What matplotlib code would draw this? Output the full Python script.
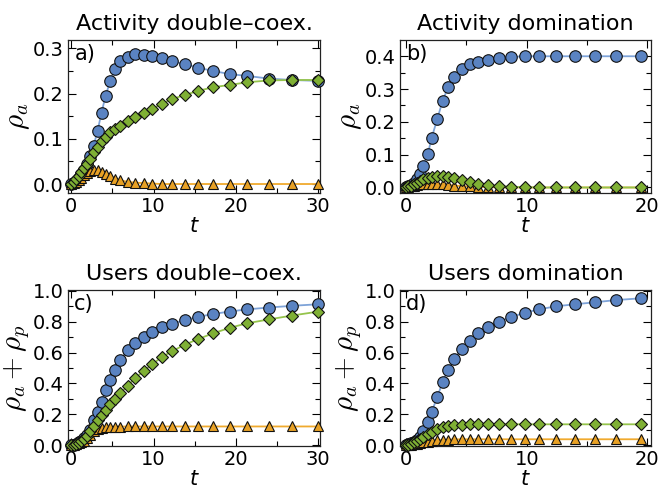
import matplotlib
matplotlib.use('Agg')
import matplotlib.pyplot as plt
from matplotlib.ticker import MultipleLocator, FormatStrFormatter

# sampling times (left column runs to t=30, right column to t~20)
t_long = [0, 0.3, 0.6, 0.9, 1.2, 1.5, 1.85, 2.23, 2.71, 3.2, 3.68, 4.17, 4.74,
          5.34, 5.95, 6.85, 7.77, 8.79, 9.85, 11.0, 12.3, 13.85, 15.45, 17.27,
          19.25, 21.4, 24.06, 26.85, 30.0]
t_short = [0, 0.2, 0.4, 0.65, 0.9, 1.15, 1.44, 1.8, 2.13, 2.6, 3.04, 3.5, 4.0,
           4.6, 5.28, 6.0, 6.8, 7.7, 8.72, 9.82, 11.02, 12.43, 14.0, 15.66,
           17.38, 19.48]

# a) activity, double coexistence
act_coex_blue = [0, 0.003, 0.007, 0.013, 0.022, 0.032, 0.045, 0.062, 0.084,
                 0.118, 0.158, 0.195, 0.228, 0.254, 0.272, 0.281, 0.287, 0.286,
                 0.284, 0.279, 0.271, 0.265, 0.257, 0.25, 0.243, 0.239, 0.233,
                 0.23, 0.228]
act_coex_green = [0, 0.005, 0.011, 0.018, 0.026, 0.035, 0.045, 0.056, 0.07,
                  0.082, 0.094, 0.104, 0.115, 0.121, 0.128, 0.139, 0.148, 0.156,
                  0.166, 0.177, 0.188, 0.197, 0.206, 0.214, 0.219, 0.225, 0.229,
                  0.23, 0.23]
act_coex_orange = [0, 0.002, 0.005, 0.009, 0.014, 0.019, 0.024, 0.028, 0.031,
                   0.03, 0.027, 0.022, 0.017, 0.012, 0.008, 0.005, 0.003, 0.002,
                   0.001, 0, 0, 0, 0, 0, 0, 0, 0, 0, 0]

# b) activity, domination
act_dom_blue = [0, 0.003, 0.007, 0.014, 0.025, 0.04, 0.065, 0.101, 0.152, 0.21,
                0.265, 0.306, 0.337, 0.36, 0.375, 0.384, 0.39, 0.395, 0.398,
                0.4, 0.4, 0.4, 0.4, 0.4, 0.4, 0.4]
act_dom_green = [0, 0.003, 0.006, 0.01, 0.015, 0.02, 0.025, 0.03, 0.033, 0.035,
                 0.034, 0.032, 0.028, 0.022, 0.016, 0.011, 0.007, 0.004, 0.002,
                 0.001, 0, 0, 0, 0, 0, 0]
act_dom_orange = [0, 0.002, 0.004, 0.006, 0.008, 0.01, 0.011, 0.012, 0.012,
                  0.011, 0.01, 0.008, 0.006, 0.004, 0.003, 0.002, 0.001, 0.0005,
                  0, 0, 0, 0, 0, 0, 0, 0]

# c) users, double coexistence
usr_coex_blue = [0, 0.004, 0.01, 0.018, 0.03, 0.045, 0.065, 0.1, 0.16, 0.215,
                 0.28, 0.355, 0.425, 0.49, 0.55, 0.615, 0.66, 0.7, 0.733, 0.765,
                 0.788, 0.81, 0.832, 0.85, 0.866, 0.88, 0.892, 0.903, 0.913]
usr_coex_green = [0, 0.003, 0.008, 0.015, 0.025, 0.038, 0.058, 0.09, 0.125,
                  0.16, 0.195, 0.228, 0.265, 0.3, 0.335, 0.385, 0.435, 0.48,
                  0.525, 0.57, 0.61, 0.652, 0.688, 0.725, 0.76, 0.79, 0.815,
                  0.84, 0.865]
usr_coex_orange = [0, 0.002, 0.006, 0.012, 0.02, 0.03, 0.045, 0.065, 0.09,
                   0.105, 0.113, 0.117, 0.119, 0.12, 0.12, 0.121, 0.121, 0.121,
                   0.121, 0.121, 0.121, 0.121, 0.121, 0.121, 0.121, 0.121,
                   0.121, 0.121, 0.121]

# d) users, domination
usr_dom_blue = [0, 0.005, 0.012, 0.022, 0.035, 0.055, 0.09, 0.15, 0.215, 0.315,
                0.41, 0.49, 0.56, 0.62, 0.675, 0.725, 0.765, 0.8, 0.83, 0.858,
                0.88, 0.9, 0.913, 0.926, 0.94, 0.952]
usr_dom_green = [0, 0.004, 0.01, 0.02, 0.03, 0.042, 0.055, 0.072, 0.088, 0.105,
                 0.116, 0.124, 0.129, 0.132, 0.134, 0.135, 0.135, 0.135, 0.135,
                 0.135, 0.135, 0.135, 0.135, 0.135, 0.135, 0.135]
usr_dom_orange = [0, 0.002, 0.004, 0.007, 0.01, 0.014, 0.018, 0.023, 0.027,
                  0.031, 0.034, 0.036, 0.037, 0.038, 0.038, 0.038, 0.038, 0.038,
                  0.038, 0.038, 0.038, 0.038, 0.038, 0.038, 0.038, 0.038]

titles = ['Activity double\u2013coex.', 'Activity domination',
          'Users double\u2013coex.', 'Users domination']
letters = ['a)', 'b)', 'c)', 'd)']
ylabels = [r'$\rho_a$', r'$\rho_a$', r'$\rho_a + \rho_p$', r'$\rho_a + \rho_p$']

BLUE = '#5a83c2'
GREEN = '#7fb034'
ORANGE = '#e8a125'


def draw(ax, t, blue, green, orange):
    ax.plot(t, blue, '-', color='#7ea3d8', lw=1.3, zorder=2)
    ax.plot(t, orange, '-', color='#f0aa2e', lw=1.3, zorder=2)
    ax.plot(t, green, '-', color='#95c44c', lw=1.3, zorder=2)
    ax.plot(t, blue, 'o', ms=8.3, mfc=BLUE, mec='#111111', mew=0.8,
            clip_on=False, zorder=3)
    ax.plot(t, orange, '^', ms=7.8, mfc=ORANGE, mec='#111111', mew=0.8,
            clip_on=False, zorder=3)
    ax.plot(t, green, 'D', ms=5.7, mfc=GREEN, mec='#111111', mew=0.8,
            clip_on=False, zorder=4)


plt.rcParams['font.family'] = 'DejaVu Sans'
plt.rcParams['mathtext.fontset'] = 'dejavusans'

fig = plt.figure(figsize=(6.63, 4.9), dpi=100)
ax_a = fig.add_axes([0.1026, 0.606, 0.380, 0.312])
ax_b = fig.add_axes([0.6033, 0.606, 0.3786, 0.312])
ax_c = fig.add_axes([0.1026, 0.090, 0.380, 0.318])
ax_d = fig.add_axes([0.6033, 0.090, 0.3786, 0.318])
axes = [ax_a, ax_b, ax_c, ax_d]

draw(ax_a, t_long, act_coex_blue, act_coex_green, act_coex_orange)
draw(ax_b, t_short, act_dom_blue, act_dom_green, act_dom_orange)
draw(ax_c, t_long, usr_coex_blue, usr_coex_green, usr_coex_orange)
draw(ax_d, t_short, usr_dom_blue, usr_dom_green, usr_dom_orange)

ax_a.set_xlim(-0.4, 30.25)
ax_c.set_xlim(-0.4, 30.25)
ax_b.set_xlim(-0.5, 20.3)
ax_d.set_xlim(-0.5, 20.3)
ax_a.set_ylim(-0.02, 0.318)
ax_b.set_ylim(-0.017, 0.449)
ax_c.set_ylim(-0.005, 1.005)
ax_d.set_ylim(-0.005, 1.005)

for ax in (ax_a, ax_b):
    ax.yaxis.set_major_locator(MultipleLocator(0.1))
    ax.yaxis.set_minor_locator(MultipleLocator(0.05))
for ax in (ax_c, ax_d):
    ax.yaxis.set_major_locator(MultipleLocator(0.2))
    ax.yaxis.set_minor_locator(MultipleLocator(0.1))

for ax, title, letter, ylab in zip(axes, titles, letters, ylabels):
    ax.xaxis.set_major_locator(MultipleLocator(10))
    ax.xaxis.set_minor_locator(MultipleLocator(5))
    ax.yaxis.set_major_formatter(FormatStrFormatter('%.1f'))
    ax.set_title(title, fontsize=16, pad=7)
    ax.text(0.025, 0.975, letter, transform=ax.transAxes, fontsize=15,
            ha='left', va='top')
    ax.tick_params(which='both', direction='in', top=True, right=True,
                   labelsize=14, pad=3)
    ax.tick_params(which='major', length=6, width=0.8)
    ax.tick_params(which='minor', length=3.5, width=0.8)
    ax.set_xlabel('$t$', fontsize=15, labelpad=0)
    ax.set_ylabel(ylab, fontsize=21, labelpad=1, math_fontfamily='cm')
    for s in ax.spines.values():
        s.set_linewidth(0.9)
        s.set_color('#222222')

fig.savefig('out.png', dpi=100)
